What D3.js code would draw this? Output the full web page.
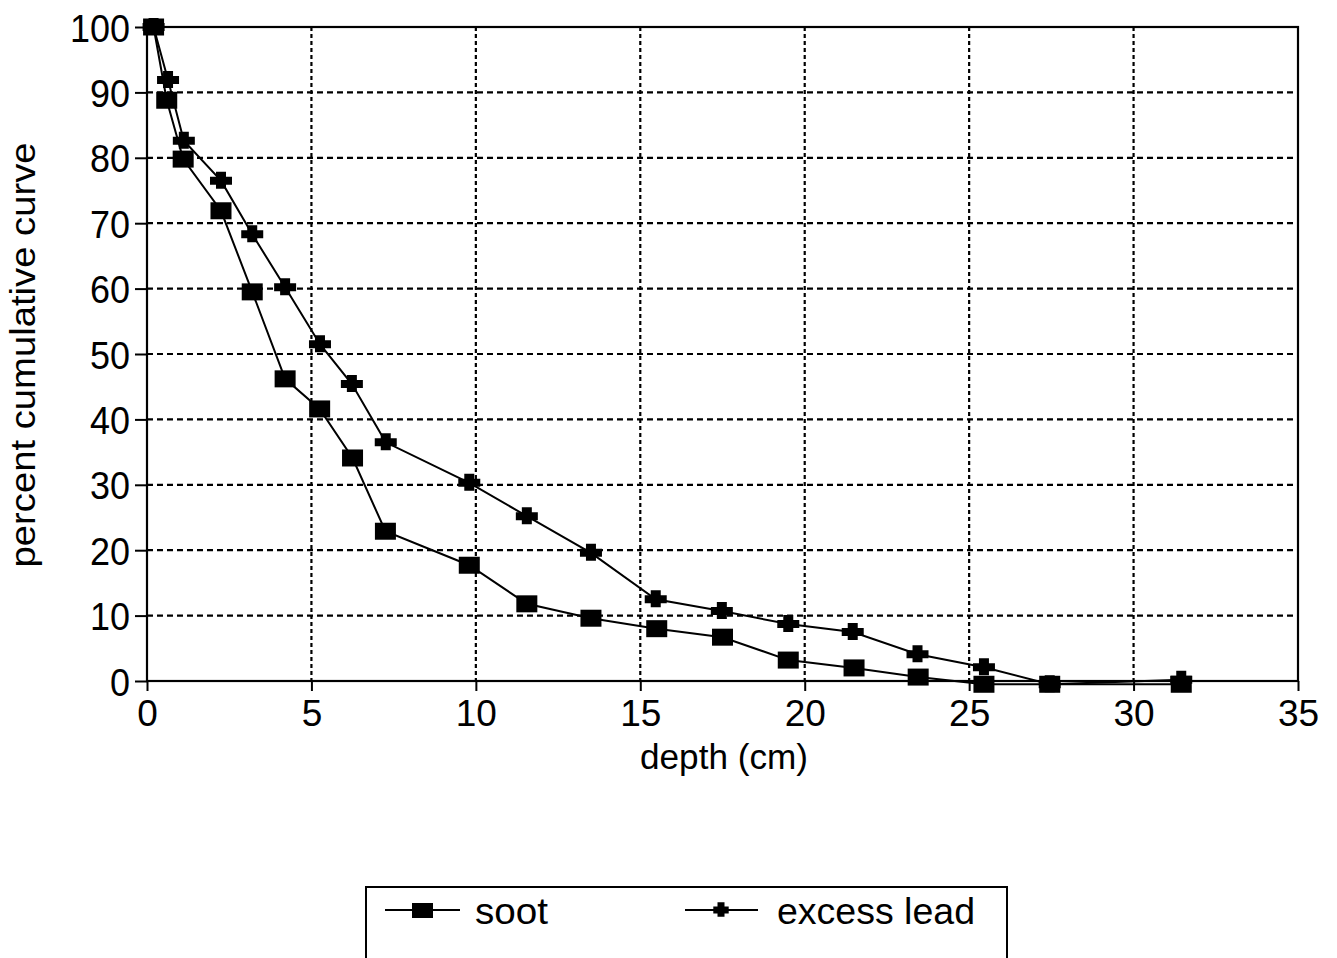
<!DOCTYPE html>
<html><head><meta charset="utf-8">
<script src="https://cdn.jsdelivr.net/npm/d3@7"></script>
<style>body{margin:0;background:#fff}svg{display:block}text{font-family:"Liberation Sans",Arial,sans-serif;fill:#000}</style>
</head><body><svg id="c" width="1337" height="958"></svg>
<script>
const sootDepth = [0.2,0.6,1.1,2.25,3.2,4.2,5.25,6.25,7.25,9.8,11.55,13.5,15.5,17.5,19.5,21.5,23.45,25.45,27.45,31.45];
const sootValue = [100,88.8,79.8,71.9,59.5,46.2,41.6,34.1,22.9,17.7,11.8,9.6,8.0,6.7,3.2,2.0,0.6,-0.5,-0.5,-0.5];
const leadDepth = [0.2,0.64,1.12,2.25,3.2,4.2,5.26,6.23,7.26,9.8,11.55,13.5,15.47,17.48,19.5,21.46,23.43,25.45,27.45,31.45];
const leadValue = [100,91.9,82.6,76.5,68.3,60.2,51.5,45.4,36.5,30.3,25.2,19.6,12.5,10.7,8.7,7.5,4.1,2.1,-0.5,0.2];
const xTicks = [0,5,10,15,20,25,30,35];
const yTicks = [0,10,20,30,40,50,60,70,80,90,100];
const seriesNames = ["soot","excess lead"];
const xTitle = "depth (cm)";
const yTitle = "percent cumulative curve";

const svg = d3.select("#c");
const L=147,R=1298,T=27,B=681;
const x = d3.scaleLinear().domain([0,35]).range([L,R]);
const y = d3.scaleLinear().domain([0,100]).range([B,T]);

// grid
const g = svg.append("g");
g.selectAll("line.v").data(xTicks.filter(d=>d>0&&d<35)).join("line")
 .attr("x1",d=>x(d)).attr("x2",d=>x(d)).attr("y1",T).attr("y2",B)
 .attr("stroke","#000").attr("stroke-width",2.2).attr("stroke-dasharray","4,3");
g.selectAll("line.h").data(yTicks.filter(d=>d>0&&d<100)).join("line")
 .attr("y1",d=>y(d)).attr("y2",d=>y(d)).attr("x1",L).attr("x2",R)
 .attr("stroke","#000").attr("stroke-width",2.2).attr("stroke-dasharray","6,4");

// frame
svg.append("rect").attr("x",L).attr("y",T).attr("width",R-L).attr("height",B-T)
 .attr("fill","none").attr("stroke","#000").attr("stroke-width",2.2);

// axes
const xa = svg.append("g").attr("transform",`translate(0,${B})`)
 .call(d3.axisBottom(x).tickValues(xTicks).tickSize(10));
const ya = svg.append("g").attr("transform",`translate(${L},0)`)
 .call(d3.axisLeft(y).tickValues(yTicks).tickSize(12).tickPadding(5));
[xa,ya].forEach(a=>{a.select(".domain").remove();
 a.selectAll(".tick line").attr("stroke","#000").attr("stroke-width",2);
 a.selectAll("text").attr("font-family","Liberation Sans, Arial, sans-serif").attr("fill","#000");});
ya.selectAll("text").attr("font-size",39).attr("dy","0.36em")
 .attr("textLength",d=>String(d).length*20).attr("lengthAdjust","spacingAndGlyphs");
xa.selectAll("text").attr("font-size",37).attr("y",45).attr("dy","0");

svg.append("text").attr("x",724).attr("y",769).attr("text-anchor","middle").attr("font-size",35)
 .attr("textLength",168).attr("lengthAdjust","spacingAndGlyphs").text(xTitle);
svg.append("text").attr("transform",`translate(35,355) rotate(-90)`).attr("text-anchor","middle").attr("font-size",35)
 .attr("textLength",425).attr("lengthAdjust","spacingAndGlyphs").text(yTitle);

const line = d3.line().x(d=>x(d[0])).y(d=>y(d[1]));
const soot = sootDepth.map((d,i)=>[d,sootValue[i]]);
const lead = leadDepth.map((d,i)=>[d,leadValue[i]]);
svg.append("path").datum(soot).attr("d",line).attr("fill","none").attr("stroke","#000").attr("stroke-width",2);
svg.append("path").datum(lead).attr("d",line).attr("fill","none").attr("stroke","#000").attr("stroke-width",2);

const crossPath = "M-11,-4H-5V-9H5V-4H11V4H5V8H-5V4H-11Z";
svg.selectAll("rect.s").data(soot).join("rect").attr("class","s")
 .attr("x",d=>x(d[0])-10.5).attr("y",d=>y(d[1])-8.5).attr("width",21).attr("height",17).attr("fill","#000");
svg.selectAll("path.p").data(lead).join("path").attr("class","p")
 .attr("transform",d=>`translate(${x(d[0])},${y(d[1])})`).attr("d",crossPath).attr("fill","#000");

// legend
const lg = svg.append("g");
lg.append("rect").attr("x",366).attr("y",887).attr("width",641).attr("height",90).attr("fill","none").attr("stroke","#000").attr("stroke-width",2);
lg.append("line").attr("x1",385).attr("x2",460).attr("y1",910).attr("y2",910).attr("stroke","#000").attr("stroke-width",2);
lg.append("rect").attr("x",412).attr("y",903).attr("width",21).attr("height",15).attr("fill","#000");
lg.append("text").attr("x",475).attr("y",924).attr("font-size",37).attr("textLength",73).attr("lengthAdjust","spacingAndGlyphs").text(seriesNames[0]);
lg.append("line").attr("x1",685).attr("x2",758).attr("y1",910).attr("y2",910).attr("stroke","#000").attr("stroke-width",2);
lg.append("path").attr("transform","translate(721,910) scale(0.7,0.85)").attr("d",crossPath).attr("fill","#000");
lg.append("text").attr("x",777).attr("y",924).attr("font-size",37).attr("textLength",198).attr("lengthAdjust","spacingAndGlyphs").text(seriesNames[1]);
</script></body></html>
